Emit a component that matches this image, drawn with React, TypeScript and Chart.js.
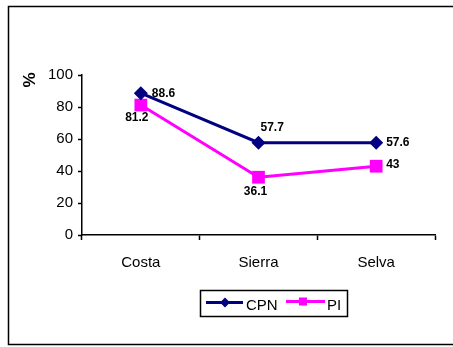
import React, { useEffect, useRef } from "react";
import { Chart, registerables } from "chart.js";

Chart.register(...registerables);

const categories = ["Costa", "Sierra", "Selva"];
const cpnValues = [88.6, 57.7, 57.6];
const piValues = [81.2, 36.1, 43];
const seriesNames = ["CPN", "PI"];
const yTicks = [0, 20, 40, 60, 80, 100];

const NAVY = "#000080";
const MAGENTA = "#FF00FF";
const FONT = "Arial, 'Liberation Sans'";

// label offsets per series/point [dx, dy, align]
const cpnLabelPos: [number, number, CanvasTextAlign][] = [
  [11, 0, "left"],
  [2, -15, "left"],
  [10, 0, "left"],
];
const piLabelPos: [number, number, CanvasTextAlign][] = [
  [-4, 13, "center"],
  [-3, 14, "center"],
  [10, -2, "left"],
];

const framePlugin = {
  id: "frame",
  beforeDraw(chart: any) {
    const ctx = chart.ctx;
    ctx.save();
    ctx.fillStyle = "#ffffff";
    ctx.fillRect(0, 0, chart.width, chart.height);
    ctx.strokeStyle = "#000";
    ctx.lineWidth = 1.5;
    ctx.strokeRect(8.5, 6.5, 470, 338);
    // y title
    ctx.translate(30, 80);
    ctx.rotate(-Math.PI / 2);
    ctx.fillStyle = "#000";
    ctx.font = `bold 17px ${FONT}`;
    ctx.textAlign = "center";
    ctx.textBaseline = "middle";
    ctx.fillText("%", 0, 0);
    ctx.restore();
  },
};

function drawDiamond(ctx: any, x: number, y: number, r: number) {
  ctx.beginPath();
  ctx.moveTo(x, y - r);
  ctx.lineTo(x + r, y);
  ctx.lineTo(x, y + r);
  ctx.lineTo(x - r, y);
  ctx.closePath();
  ctx.fill();
}

const labelsPlugin = {
  id: "labels",
  afterDatasetsDraw(chart: any) {
    const ctx = chart.ctx;
    ctx.save();
    ctx.fillStyle = "#000";
    ctx.font = `bold 12px ${FONT}`;
    ctx.textBaseline = "middle";
    const sets = [
      { vals: cpnValues, pos: cpnLabelPos },
      { vals: piValues, pos: piLabelPos },
    ];
    sets.forEach((s, di) => {
      const meta = chart.getDatasetMeta(di);
      meta.data.forEach((pt: any, i: number) => {
        const [dx, dy, al] = s.pos[i];
        ctx.textAlign = al;
        ctx.fillText(String(s.vals[i]), pt.x + dx, pt.y + dy);
      });
    });

    // legend
    const bx = 200.5, by = 290.5, bw = 147, bh = 26;
    ctx.strokeStyle = "#000";
    ctx.lineWidth = 1.5;
    ctx.strokeRect(bx, by, bw, bh);
    const cy = by + bh / 2;
    ctx.lineWidth = 3;
    ctx.strokeStyle = NAVY;
    ctx.beginPath();
    ctx.moveTo(206, cy - 1);
    ctx.lineTo(243, cy - 1);
    ctx.stroke();
    ctx.fillStyle = NAVY;
    drawDiamond(ctx, 225, cy - 1, 5);
    ctx.strokeStyle = MAGENTA;
    ctx.beginPath();
    ctx.moveTo(286, cy - 2);
    ctx.lineTo(325, cy - 2);
    ctx.stroke();
    ctx.fillStyle = MAGENTA;
    ctx.fillRect(299, cy - 6, 8, 8);
    ctx.fillStyle = "#000";
    ctx.font = `15px ${FONT}`;
    ctx.textAlign = "left";
    ctx.textBaseline = "middle";
    ctx.fillText(seriesNames[0], 246, cy + 2);
    ctx.fillText(seriesNames[1], 327, cy + 2);
    ctx.restore();
  },
};

export default function App() {
  const ref = useRef<HTMLCanvasElement | null>(null);
  useEffect(() => {
    if (!ref.current) return;
    const chart = new Chart(ref.current, {
      type: "line",
      data: {
        labels: categories,
        datasets: [
          {
            label: seriesNames[0],
            data: cpnValues,
            borderColor: NAVY,
            backgroundColor: NAVY,
            borderWidth: 3,
            pointStyle: "rectRot",
            pointRadius: 7,
            pointBorderWidth: 0,
            tension: 0,
          },
          {
            label: seriesNames[1],
            data: piValues,
            borderColor: MAGENTA,
            backgroundColor: MAGENTA,
            borderWidth: 3,
            pointStyle: "rect",
            pointRadius: 9,
            pointBorderWidth: 0,
            tension: 0,
          },
        ],
      },
      options: {
        responsive: false,
        animation: false,
        layout: { padding: { left: 8, right: 18, top: 75, bottom: 0 } },
        plugins: {
          legend: { display: false },
          tooltip: { enabled: false },
        },
        scales: {
          x: {
            offset: true,
            grid: {
              offset: true,
              drawOnChartArea: false,
              tickLength: 5,
              tickColor: "#000",
              tickWidth: 1.5,
            },
            border: { color: "#000", width: 1.5 },
            ticks: {
              color: "#000",
              font: { family: FONT, size: 15 },
              padding: 14,
              maxRotation: 0,
            },
            afterFit(scale: any) {
              scale.height = 112;
            },
          },
          y: {
            min: 0,
            max: 100,
            afterBuildTicks(scale: any) {
              scale.ticks = yTicks.map((v) => ({ value: v }));
            },
            grid: {
              drawOnChartArea: false,
              tickLength: 4,
              tickColor: "#000",
              tickWidth: 1.5,
            },
            border: { color: "#000", width: 1.5 },
            ticks: {
              color: "#000",
              font: { family: FONT, size: 15 },
              padding: 5,
            },
            afterFit(scale: any) {
              scale.width = 74;
            },
          },
        },
      },
      plugins: [framePlugin, labelsPlugin],
    } as any);
    return () => chart.destroy();
  }, []);
  return (
    <div style={{ position: "fixed", left: 0, top: 0, width: 453, height: 347 }}>
      <canvas ref={ref} width={453} height={347} style={{ display: "block" }} />
    </div>
  );
}
